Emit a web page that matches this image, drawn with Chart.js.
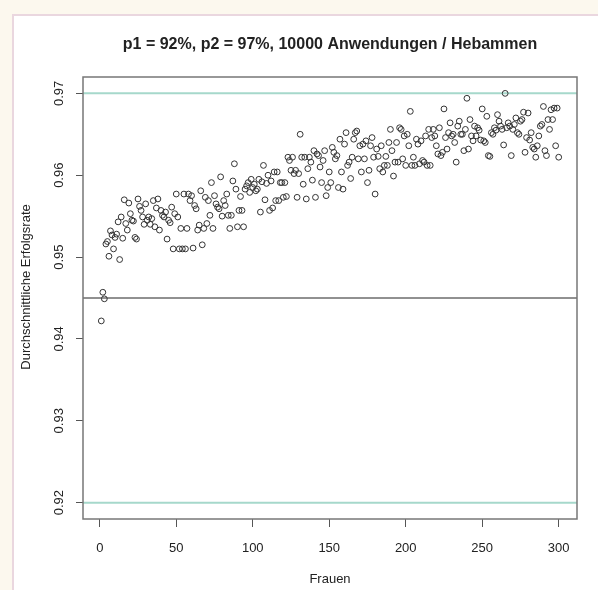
<!DOCTYPE html>
<html>
<head>
<meta charset="utf-8">
<script src="https://cdn.jsdelivr.net/npm/chart.js@4.4.1/dist/chart.umd.min.js"></script>
<style>
  html, body { margin: 0; padding: 0; background: #fcf8ee; }
  #wrap { position: relative; width: 598px; height: 590px; overflow: hidden; }
  #panel { position: absolute; left: 12px; top: 14px; width: 600px; height: 600px; background: #fff;
           border-left: 2px solid #ead7df; border-top: 2px solid #ead7df; }
  canvas { position: absolute; left: 0; top: 0; }
</style>
</head>
<body>
<div id="wrap">
  <div id="panel"></div>
  <canvas id="chart" width="598" height="590"></canvas>
</div>
<script>
// chart texts
const title = "p1 = 92%, p2 = 97%, 10000 Anwendungen / Hebammen";
const xTitle = "Frauen";
const yTitle = "Durchschnittliche Erfolgsrate";

// axes
const xTicks = [0, 50, 100, 150, 200, 250, 300];
const yTicks = [0.92, 0.93, 0.94, 0.95, 0.96, 0.97];

// reference lines
const grenzen = [0.92, 0.97];
const mittel = 0.945;

// average success rate per number of women (1..300)
const erfolgsrate = [
  0.9422, 0.9457, 0.9449, 0.9516, 0.9519, 0.9501, 0.9532, 0.9527, 0.9510, 0.9524,
  0.9528, 0.9543, 0.9497, 0.9549, 0.9523, 0.9570, 0.9541, 0.9533, 0.9566, 0.9553,
  0.9545, 0.9544, 0.9524, 0.9522, 0.9571, 0.9562, 0.9557, 0.9549, 0.9540, 0.9565,
  0.9545, 0.9549, 0.9540, 0.9547, 0.9569, 0.9537, 0.9560, 0.9571, 0.9533, 0.9557,
  0.9551, 0.9549, 0.9555, 0.9522, 0.9545, 0.9542, 0.9561, 0.9510, 0.9553, 0.9577,
  0.9549, 0.9510, 0.9535, 0.9510, 0.9577,
  0.9510, 0.9535, 0.9577, 0.9569, 0.9575, 0.9511, 0.9563, 0.9559, 0.9533, 0.9539,
  0.9581, 0.9515, 0.9535, 0.9573, 0.9541, 0.9569, 0.9551, 0.9591, 0.9535, 0.9575,
  0.9565, 0.9561, 0.9559, 0.9598, 0.9550, 0.9569, 0.9563, 0.9577, 0.9551, 0.9535,
  0.9551, 0.9593, 0.9614, 0.9583, 0.9537, 0.9557, 0.9574, 0.9557, 0.9537, 0.9583,
  0.9587, 0.9591, 0.9579, 0.9595, 0.9585, 0.9589, 0.9581, 0.9583, 0.9595, 0.9555,
  0.9592, 0.9612, 0.9570, 0.9590, 0.9600, 0.9557, 0.9593, 0.9560, 0.9604, 0.9569,
  0.9604, 0.9569, 0.9591, 0.9591, 0.9573, 0.9591, 0.9574, 0.9622, 0.9618, 0.9606,
  0.9622, 0.9602, 0.9606, 0.9573, 0.9602, 0.9650, 0.9622, 0.9589, 0.9622, 0.9571,
  0.9608, 0.9622, 0.9616, 0.9594, 0.9630, 0.9573, 0.9626, 0.9624, 0.9610, 0.9591,
  0.9618, 0.9630, 0.9575, 0.9585, 0.9604, 0.9591, 0.9634, 0.9628, 0.9620, 0.9624,
  0.9585, 0.9644, 0.9604, 0.9583, 0.9638, 0.9652, 0.9612, 0.9616, 0.9596, 0.9622,
  0.9644, 0.9652, 0.9654, 0.9620, 0.9636, 0.9604, 0.9638, 0.9620, 0.9642, 0.9591,
  0.9606, 0.9636, 0.9646,
  0.9622, 0.9577, 0.9632, 0.9623, 0.9608, 0.9636, 0.9604, 0.9612, 0.9623, 0.9612,
  0.9640, 0.9656, 0.9630, 0.9599, 0.9616, 0.9640, 0.9616, 0.9658, 0.9656, 0.9620,
  0.9648, 0.9612, 0.9650, 0.9636, 0.9678, 0.9612, 0.9622, 0.9612, 0.9644, 0.9638,
  0.9614, 0.9642, 0.9618, 0.9616, 0.9648, 0.9612, 0.9656, 0.9612, 0.9646, 0.9656,
  0.9648, 0.9636, 0.9626, 0.9658, 0.9624, 0.9628, 0.9681, 0.9646, 0.9632, 0.9652,
  0.9664, 0.9648, 0.9650, 0.9640, 0.9616, 0.9660, 0.9666, 0.9650, 0.9650, 0.9630,
  0.9656, 0.9694,
  0.9632, 0.9668, 0.9648, 0.9642, 0.9660, 0.9648, 0.9658, 0.9655, 0.9643, 0.9681,
  0.9642, 0.9640, 0.9672, 0.9624, 0.9623, 0.9652, 0.9650, 0.9658, 0.9655, 0.9674,
  0.9666, 0.9660, 0.9656, 0.9637, 0.9700, 0.9658, 0.9664, 0.9660, 0.9624, 0.9656,
  0.9662, 0.9670, 0.9652, 0.9650, 0.9666, 0.9668, 0.9677, 0.9628, 0.9646, 0.9676,
  0.9643, 0.9652, 0.9634, 0.9632, 0.9622, 0.9636, 0.9648, 0.9660, 0.9662, 0.9684,
  0.9630, 0.9624, 0.9668, 0.9656, 0.9680, 0.9668, 0.9682, 0.9636, 0.9682, 0.9622
];

const frauen = erfolgsrate.map((_, i) => i + 1);

// R style axis range: data range plus 4% each side
const xMin = 1 - 0.04 * 299, xMax = 300 + 0.04 * 299;
const yMin = 0.92 - 0.002, yMax = 0.97 + 0.002;

const fontFamily = '"Liberation Sans", Arial, sans-serif';

function hLine(yVal, color, width) {
    return {
        data: [{ x: xMin, y: yVal }, { x: xMax, y: yVal }],
        showLine: true,
        borderColor: color,
        borderWidth: width,
        pointRadius: 0,
        order: 2
    };
}

// box, rotated y labels, axis titles and main title like base R graphics
const rStyle = {
    id: 'rStyle',
    afterDraw(chart) {
        const { ctx, chartArea: a, scales: { y } } = chart;
        ctx.save();
        ctx.strokeStyle = '#777';
        ctx.lineWidth = 1.5;
        ctx.strokeRect(a.left, a.top, a.right - a.left, a.bottom - a.top);

        ctx.fillStyle = '#222';
        ctx.textAlign = 'center';
        ctx.textBaseline = 'middle';
        ctx.font = '13px ' + fontFamily;
        yTicks.forEach(v => {
            ctx.save();
            ctx.translate(59, y.getPixelForValue(v));
            ctx.rotate(-Math.PI / 2);
            ctx.fillText(v.toFixed(2), 0, 0);
            ctx.restore();
        });

        ctx.save();
        ctx.translate(26, 287);
        ctx.rotate(-Math.PI / 2);
        ctx.fillText(yTitle, 0, 0);
        ctx.restore();

        ctx.fillText(xTitle, (a.left + a.right) / 2, 579);

        ctx.font = 'bold 16px ' + fontFamily;
        ctx.fillText(title, (a.left + a.right) / 2, 45);
        ctx.restore();
    }
};

new Chart(document.getElementById("chart"), {
    type: "scatter",
    data: {
        datasets: [
            {
                data: frauen.map((f, i) => ({ x: f, y: erfolgsrate[i] })),
                pointStyle: 'circle',
                pointRadius: 2.9,
                borderColor: '#333',
                borderWidth: 1,
                backgroundColor: 'rgba(0,0,0,0)',
                order: 0
            },
            hLine(grenzen[0], '#a6d8cb', 2),
            hLine(grenzen[1], '#a6d8cb', 2),
            hLine(mittel, '#222', 1)
        ]
    },
    options: {
        responsive: false,
        animation: false,
        devicePixelRatio: 1,
        layout: { padding: { left: 0, right: 21, top: 77, bottom: 0 } },
        plugins: {
            legend: { display: false },
            tooltip: { enabled: false }
        },
        scales: {
            x: {
                type: 'linear',
                min: xMin,
                max: xMax,
                afterBuildTicks: s => { s.ticks = xTicks.map(v => ({ value: v })); },
                afterFit: s => { s.height = 71; },
                grid: { drawOnChartArea: false, tickLength: 8, color: '#555' },
                border: { display: false },
                ticks: {
                    color: '#222',
                    font: { family: fontFamily, size: 13 },
                    padding: 14,
                    maxRotation: 0,
                    autoSkip: false
                }
            },
            y: {
                min: yMin,
                max: yMax,
                afterBuildTicks: s => { s.ticks = yTicks.map(v => ({ value: v })); },
                afterFit: s => { s.width = 83; },
                grid: { drawOnChartArea: false, tickLength: 7, color: '#555' },
                border: { display: false },
                ticks: { display: false }
            }
        }
    },
    plugins: [rStyle]
});
</script>
</body>
</html>
